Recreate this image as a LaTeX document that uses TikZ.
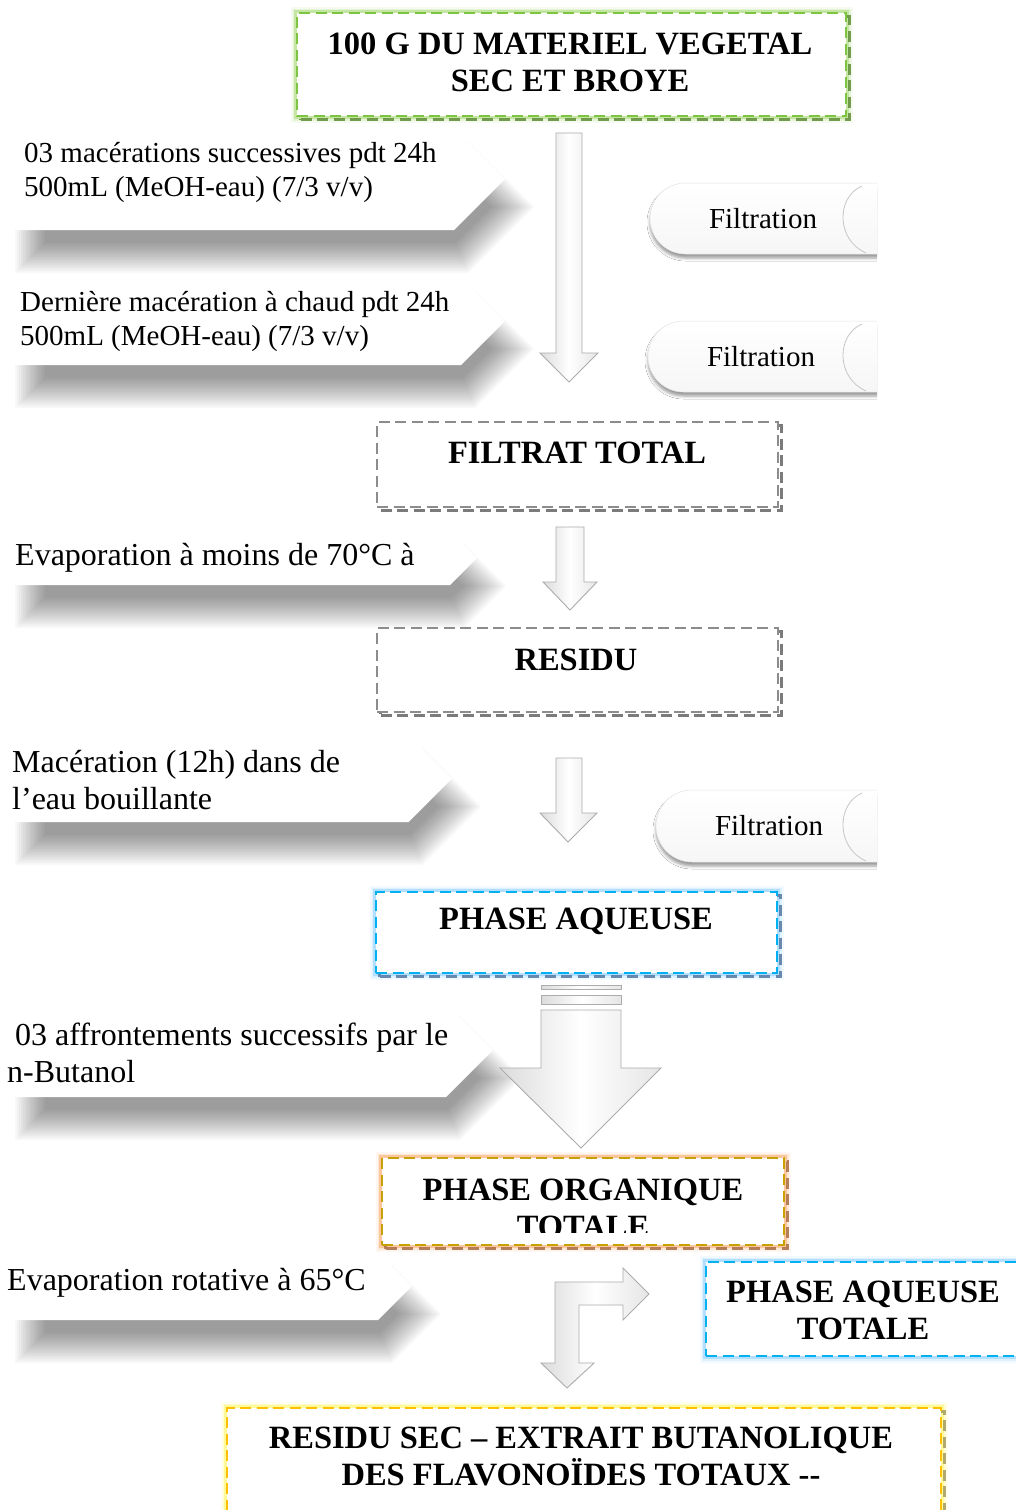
\documentclass[tikz,border=0pt]{standalone}
\usepackage{fontspec}
\setmainfont{Liberation Serif}
\usetikzlibrary{shadows.blur}
\definecolor{grnB}{RGB}{125,196,66}
\definecolor{grnG}{RGB}{146,208,80}
\definecolor{grnS}{RGB}{95,140,55}
\definecolor{gryB}{RGB}{140,140,140}
\definecolor{gryS}{RGB}{100,100,100}
\definecolor{bluB}{RGB}{0,176,240}
\definecolor{bluG}{RGB}{110,195,255}
\definecolor{bluS}{RGB}{85,120,160}
\definecolor{orgB}{RGB}{200,160,0}
\definecolor{orgG}{RGB}{247,150,70}
\definecolor{orgS}{RGB}{170,110,70}
\definecolor{yelB}{RGB}{255,192,0}
\definecolor{yelG}{RGB}{255,245,60}
\definecolor{yelS}{RGB}{165,155,95}
\tikzset{
  glow/.style={preaction={draw=#1,line width=13pt,draw opacity=.08,solid,fill=none},
               preaction={draw=#1,line width=9pt,draw opacity=.16,solid,fill=none},
               preaction={draw=#1,line width=5.5pt,draw opacity=.38,solid,fill=none}},
  dshadow/.style={preaction={draw=#1,line width=3.5pt,draw opacity=.85,fill=none,transform canvas={shift={(3.5pt,-3.5pt)}}}},
  fbox/.style={draw=#1,line width=2.4pt,dash pattern=on 11pt off 5.5pt,fill=white,inner sep=0pt},
  boxtext/.style={font=\fontsize{32.5}{37}\selectfont\bfseries,align=center,inner sep=0pt},
  ctext/.style={font=\fontsize{29}{34}\selectfont,align=left,anchor=west,inner sep=0pt},
  ctextL/.style={font=\fontsize{32}{36.5}\selectfont,align=left,anchor=west,inner sep=0pt},
  ftext/.style={font=\fontsize{29}{34}\selectfont,inner sep=0pt},
  shadowlayer/.style={fill=black,fill opacity=0.027},
  callfill/.style={fill=white},
  blockarrow/.style={left color=gray!28,right color=gray!20,middle color=white,draw=gray!65,line width=0.9pt,line join=miter},
  pill/.style={top color=white,bottom color=gray!7,draw=gray!22,line width=0.5pt,
     blur shadow={shadow xshift=0pt,shadow yshift=-4pt,shadow blur radius=3pt,shadow opacity=40}},
}
\newcommand\mycallout[8]{%
  \pgfmathsetmacro\hh{(#3-#2)/2}%
  \foreach \r in {-15,-13,...,15}{%
    \path[shadowlayer] ({30-\r},{#2+28-\r}) -- ({#4+8-\hh+\r*0.4142},{#2+28-\r})
      -- ({#4+8+\r*1.4142},{#2+28+\hh}) -- ({#4+8-\hh+\r*0.4142},{#3+28+\r})
      -- ({30-\r},{#3+28+\r}) -- cycle;
  }
  \path[callfill] (-20,#2) -- ({#4-\hh},#2) -- (#4,{#2+\hh}) -- ({#4-\hh},#3) -- (-20,#3) -- cycle;
  \node[#8] (#1) at (#5,#6) {#7};
}
\newcommand\filt[4]{%
  \pgfmathsetmacro\rr{(#4-#3)/2}%
  \begin{scope}
    \clip (#2-20,#3-20) rectangle (877,#4+20);
    \path[pill] ({#2+\rr},#3) -- (900,#3) -- (900,#4) -- ({#2+\rr},#4)
       arc[start angle=270,end angle=90,radius=\rr pt] -- cycle;
    \draw[gray!45,line width=.8pt] (862,#3+3) .. controls (836,#3+14) and (836,#4-14) .. (866,#4-1);
  \end{scope}
  \node[ftext] (#1) at ({#2+113},{(#3+#4)/2}) {Filtration};
}
\begin{document}
\begin{tikzpicture}[x=1pt,y=-1pt]
\useasboundingbox (0,0) rectangle (1016,1510);
\fill[white] (0,0) rectangle (1016,1510);

% callouts
\mycallout{c1}{128}{230}{505}{24}{173}{03 macérations successives pdt 24h\\500mL (MeOH-eau) (7/3 v/v)}{ctext}
\mycallout{c2}{277}{365}{505}{20}{321}{Dernière macération à chaud pdt 24h\\500mL (MeOH-eau) (7/3 v/v)}{ctext}
\mycallout{c3}{531}{585}{477}{15}{558}{Evaporation à moins de 70°C à}{ctextL}
\mycallout{c4}{735}{822}{452}{12}{780}{Macération (12h) dans de\\l’eau bouillante}{ctextL}
\mycallout{c5}{1003}{1097}{493}{7}{1053}{\hspace*{8pt}03 affrontements successifs par le\\n-Butanol}{ctextL}
\mycallout{c6}{1252}{1320}{412}{7}{1283}{Evaporation rotative à 65°C}{ctextL}

% filtration pills
\filt{f1}{650}{183}{254}
\filt{f2}{648}{321}{392}
\filt{f3}{656}{790}{862}

% boxes
\node[fbox=grnB,glow=grnG,dshadow=grnS,minimum width=549pt,minimum height=103pt] (b1) at (571.5,64.5) {};
\node[boxtext] (t1) at (570,62) {100 G DU MATERIEL VEGETAL\\SEC ET BROYE};

\node[fbox=gryB,dshadow=gryS,minimum width=401pt,minimum height=85pt] (b2) at (577.5,464.5) {};
\node[boxtext] (t2) at (577,453) {FILTRAT TOTAL};

\node[fbox=gryB,dshadow=gryS,minimum width=401pt,minimum height=84pt] (b3) at (577.5,670) {};
\node[boxtext] (t3) at (576,660) {RESIDU};

\node[fbox=bluB,glow=bluG,dshadow=bluS,minimum width=401pt,minimum height=81pt] (b4) at (576.5,932.5) {};
\node[boxtext] (t4) at (576,921) {PHASE AQUEUSE};

\node[fbox=orgB,glow=orgG,dshadow=orgS,minimum width=402pt,minimum height=87pt] (b5) at (583,1201.5) {};
\begin{scope}
  \clip (384,1160) rectangle (782,1232);
  \node[boxtext] (t5) at (583,1208) {PHASE ORGANIQUE\\TOTALE};
\end{scope}

\node[fbox=bluB,glow=bluG,minimum width=314pt,minimum height=94pt] (b6) at (863,1309) {};
\node[boxtext] (t6) at (863,1310) {PHASE AQUEUSE\\TOTALE};

\node[fbox=yelB,glow=yelG,dshadow=yelS,minimum width=714pt,minimum height=114pt] (b7) at (584,1465) {};
\node[boxtext] (t7) at (581,1456) {RESIDU SEC – EXTRAIT BUTANOLIQUE\\DES FLAVONOÏDES TOTAUX {-}{-}};

% block arrows
\path[blockarrow] (556,133) -- (582,133) -- (582,353) -- (598,353) -- (569,382) -- (540,353) -- (556,353) -- cycle;
\path[blockarrow] (556,527) -- (584,527) -- (584,582) -- (597,582) -- (570,610) -- (543,582) -- (556,582) -- cycle;
\path[blockarrow] (556,758) -- (582,758) -- (582,813) -- (597,813) -- (568,842) -- (540,813) -- (556,813) -- cycle;
\path[blockarrow] (541,985) rectangle (621,989);
\path[blockarrow] (541,995) rectangle (621,1004);
\path[blockarrow] (541,1010) -- (621,1010) -- (621,1068) -- (661,1068) -- (581,1148) -- (500,1068) -- (541,1068) -- cycle;
\path[blockarrow] (555,1282) -- (623,1282) -- (623,1268) -- (649,1294) -- (623,1320) -- (623,1305) -- (579,1305) -- (579,1363) -- (594,1363) -- (567,1388) -- (541,1363) -- (555,1363) -- cycle;
\end{tikzpicture}
\end{document}
